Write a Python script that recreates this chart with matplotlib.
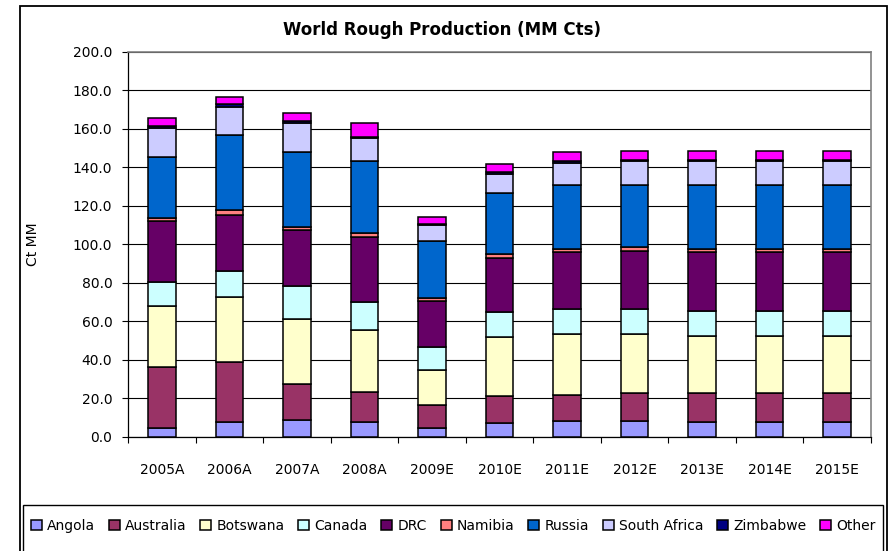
import matplotlib.pyplot as plt
import matplotlib.patches as patches
import numpy as np

# categories and production by country (MM carats)
years = ["2005A", "2006A", "2007A", "2008A", "2009E", "2010E",
         "2011E", "2012E", "2013E", "2014E", "2015E"]
countries = ["Angola", "Australia", "Botswana", "Canada", "DRC",
             "Namibia", "Russia", "South Africa", "Zimbabwe", "Other"]

angola = [4.9, 8.0, 8.9, 8.0, 4.9, 7.5, 8.3, 8.3, 8.0, 8.0, 8.0]
australia = [31.6, 30.9, 18.5, 15.4, 11.6, 13.9, 13.7, 14.4, 14.6, 14.6, 14.6]
botswana = [31.4, 33.8, 33.9, 32.3, 18.2, 30.3, 31.5, 30.6, 30.0, 30.0, 30.0]
canada = [12.7, 13.6, 17.0, 14.6, 12.2, 13.1, 12.8, 13.0, 12.9, 12.9, 12.9]
drc = [31.6, 29.1, 29.0, 33.7, 23.6, 28.3, 29.9, 30.4, 30.7, 30.7, 30.7]
namibia = [1.7, 2.5, 1.7, 1.9, 1.4, 1.7, 1.6, 1.7, 1.6, 1.6, 1.6]
russia = [31.4, 38.7, 38.7, 37.2, 29.8, 32.1, 32.9, 32.3, 32.9, 32.9, 32.9]
south_africa = [15.3, 14.6, 15.3, 11.9, 8.2, 9.6, 11.7, 12.4, 12.4, 12.4, 12.4]
zimbabwe = [0.7, 1.7, 1.2, 0.9, 0.9, 1.2, 0.8, 0.5, 0.5, 0.5, 0.5]
other = [4.3, 3.5, 3.9, 7.3, 3.3, 3.8, 4.7, 5.0, 5.0, 5.0, 5.0]

series = [angola, australia, botswana, canada, drc,
          namibia, russia, south_africa, zimbabwe, other]
colors = ["#9999FF", "#993366", "#FFFFCC", "#CCFFFF", "#660066",
          "#FF8080", "#0066CC", "#CCCCFF", "#000080", "#FF00FF"]

plt.rcParams['font.family'] = 'DejaVu Sans'

fig = plt.figure(figsize=(8.88, 5.51), dpi=100)
ax = fig.add_axes([0.1445, 0.2069, 0.8360, 0.6993])

x = np.arange(len(years))
bottom = np.zeros(len(years))
handles = []
for name, vals, col in zip(countries, series, colors):
    b = ax.bar(x, vals, 0.41, bottom=bottom, color=col, edgecolor="black",
               linewidth=1.1, label=name, zorder=3)
    handles.append(b)
    bottom += np.array(vals)

# y axis
ax.set_ylim(0, 200)
ax.set_yticks(np.arange(0, 201, 20))
ax.set_yticklabels(["%.1f" % v for v in np.arange(0, 201, 20)], fontsize=10)
ax.yaxis.grid(True, color="black", linewidth=0.8)
ax.set_axisbelow(True)
ax.tick_params(axis="y", direction="out", length=4.5, width=0.8, pad=7)
ax.set_ylabel("Ct MM", fontsize=10)
ax.yaxis.set_label_coords(-0.119, 0.5)

# x axis: ticks between categories, labels centred
ax.set_xlim(-0.5, len(years) - 0.5)
ax.set_xticks(np.arange(-0.5, len(years), 1.0))
ax.set_xticklabels([])
ax.set_xticks(x, minor=True)
ax.set_xticklabels(years, minor=True, fontsize=10)
ax.tick_params(axis="x", which="major", direction="out", length=4.5, width=0.8)
ax.tick_params(axis="x", which="minor", length=0, pad=19)

for side in ["left", "bottom"]:
    ax.spines[side].set_color("black")
    ax.spines[side].set_linewidth(0.9)
for side in ["top", "right"]:
    ax.spines[side].set_color("#808080")
    ax.spines[side].set_linewidth(1.2)

fig.text(442 / 888, 1 - 30 / 551, "World Rough Production (MM Cts)",
         ha="center", va="center", fontsize=12, fontweight="bold")

# outer chart border and legend box
fig.patches.append(patches.Rectangle((19.5 / 888, -0.02), (887 - 19.5) / 888, 1.009,
                                     transform=fig.transFigure, fill=False,
                                     edgecolor="black", linewidth=1.3))
fig.patches.append(patches.Rectangle((22.5 / 888, -0.02), (882.5 - 22.5) / 888,
                                     0.02 + (551 - 505) / 551,
                                     transform=fig.transFigure, fill=False,
                                     edgecolor="black", linewidth=1.0))

leg = fig.legend(handles=handles, labels=countries, loc="center",
                 bbox_to_anchor=(453 / 888, 1 - 526 / 551), ncol=10,
                 frameon=False, fontsize=10, handlelength=0.8,
                 handleheight=0.8, handletextpad=0.35, columnspacing=1.0,
                 borderaxespad=0)

fig.savefig("out.png", dpi=100)
